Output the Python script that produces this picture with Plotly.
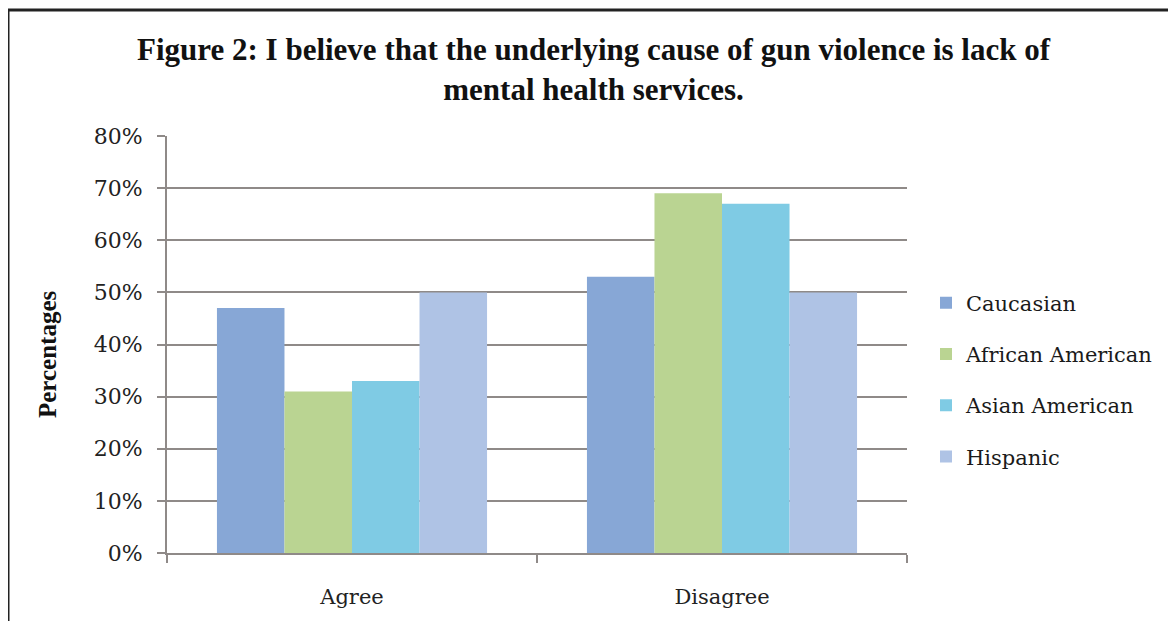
import plotly.graph_objects as go

categories = ["Agree", "Disagree"]
series_names = ["Caucasian", "African American", "Asian American", "Hispanic"]
caucasian = [47, 53]
african_american = [31, 69]
asian_american = [33, 67]
hispanic = [50, 50]
y_ticks = [0, 10, 20, 30, 40, 50, 60, 70, 80]
y_tick_labels = ["0%", "10%", "20%", "30%", "40%", "50%", "60%", "70%", "80%"]
title_text = "Figure 2: I believe that the underlying cause of gun violence is lack of<br>mental health services."

values = [caucasian, african_american, asian_american, hispanic]
colors = ["#87a7d6", "#bad492", "#7fcbe4", "#afc3e5"]

# page body has an 8px margin, so the figure is drawn in a 1160x613 box
W, H = 1160, 613
L, R, T, B = 159, 261, 128, 68

fig = go.Figure()
for i, (name, vals) in enumerate(zip(series_names, values)):
    fig.add_trace(go.Bar(
        name=name, x=categories, y=vals,
        marker=dict(color=colors[i], line=dict(width=0)),
        legendgroup=name,
    ))


def px_x(p):
    return (p - L) / (W - L - R)


def px_y(p):
    return (H - B - p) / (H - T - B)


fig.update_layout(
    width=W, height=H,
    margin=dict(l=L, r=R, t=T, b=B, autoexpand=False),
    paper_bgcolor="white", plot_bgcolor="white",
    barmode="group", bargap=0.27, bargroupgap=0,
    legend=dict(
        x=px_x(918), xanchor="left", y=px_y(372), yanchor="middle",
        font=dict(family="DejaVu Serif", size=21, color="#1a1a1a"),
        traceorder="grouped", tracegroupgap=21,
        itemwidth=30, bgcolor="rgba(0,0,0,0)",
    ),
    showlegend=True,
)

fig.update_yaxes(
    range=[0, 80], tickvals=y_ticks, ticktext=y_tick_labels,
    showgrid=True, gridcolor="#8f8a88", gridwidth=2,
    showline=True, linecolor="#8f8a88", linewidth=2,
    ticks="outside", ticklen=8, tickcolor="#8f8a88", tickwidth=2,
    ticklabelstandoff=10,
    tickfont=dict(family="DejaVu Serif", size=22, color="#222222"),
    zeroline=False,
)
fig.update_xaxes(
    showline=True, linecolor="#8f8a88", linewidth=2,
    ticks="outside", ticklen=8, tickcolor="#8f8a88", tickwidth=2,
    tickson="boundaries", ticklabelstandoff=24,
    tickfont=dict(family="DejaVu Serif", size=21, color="#222222"),
)

fig.add_annotation(
    text="<b>" + title_text + "</b>",
    xref="paper", yref="paper", x=px_x(586), y=px_y(61),
    xanchor="center", yanchor="middle", showarrow=False, align="center",
    font=dict(family="Liberation Serif", size=31, color="#111111"),
)

fig.add_annotation(
    text="<b>Percentages</b>", textangle=-90,
    xref="paper", yref="paper", x=px_x(39), y=px_y(346),
    xanchor="center", yanchor="middle", showarrow=False,
    font=dict(family="Liberation Serif", size=25, color="#111111"),
)

# frame lines of the original figure border
fig.add_shape(type="line", xref="paper", yref="paper",
              x0=px_x(0), x1=px_x(W + 5), y0=px_y(2), y1=px_y(2),
              line=dict(color="#222222", width=3))
fig.add_shape(type="line", xref="paper", yref="paper",
              x0=px_x(0), x1=px_x(0), y0=px_y(2), y1=px_y(H + 5),
              line=dict(color="#222222", width=3))

fig.write_html("out.html")
